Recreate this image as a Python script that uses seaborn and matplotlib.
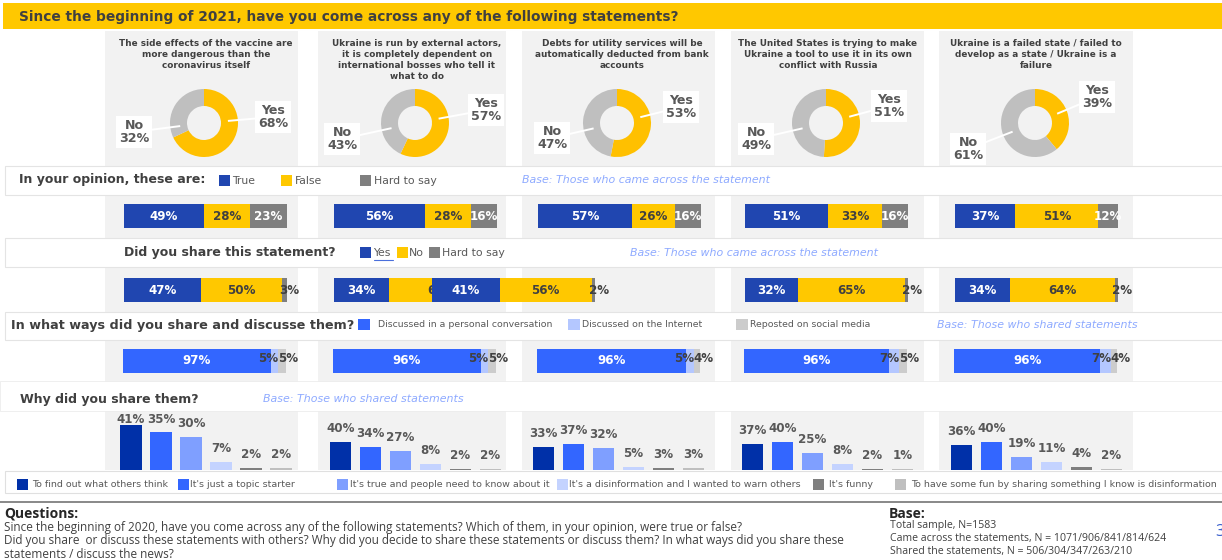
import numpy as np
import pandas as pd
import matplotlib
matplotlib.use("Agg")
import matplotlib.pyplot as plt
import seaborn as sns
from matplotlib.patches import Rectangle

# ---------------- data ----------------
statements = [
    "The side effects of the vaccine are\nmore dangerous than the\ncoronavirus itself",
    "Ukraine is run by external actors,\nit is completely dependent on\ninternational bosses who tell it\nwhat to do",
    "Debts for utility services will be\nautomatically deducted from bank\naccounts",
    "The United States is trying to make\nUkraine a tool to use it in its own\nconflict with Russia",
    "Ukraine is a failed state / failed to\ndevelop as a state / Ukraine is a\nfailure",
]
seen_yes = [68, 57, 53, 51, 39]
seen_no = [32, 43, 47, 49, 61]

opinion_labels = ["True", "False", "Hard to say"]
opinion_true = [49, 56, 57, 51, 37]
opinion_false = [28, 28, 26, 33, 51]
opinion_hard = [23, 16, 16, 16, 12]

share_labels = ["Yes", "No", "Hard to say"]
share_yes = [47, 34, 41, 32, 34]
share_no = [50, 64, 56, 65, 64]
share_hard = [3, 2, 2, 2, 2]

ways_labels = ["Discussed in a personal conversation", "Discussed on the Internet",
               "Reposted on social media"]
ways_personal = [97, 96, 96, 96, 96]
ways_internet = [5, 5, 5, 7, 7]
ways_social = [5, 5, 4, 5, 4]

why_labels = ["To find out what others think", "It's just a topic starter",
              "It's true and people need to know about it",
              "It's a disinformation and I wanted to warn others", "It's funny",
              "To have some fun by sharing something I know is disinformation"]
why_find_out = [41, 40, 33, 37, 36]
why_topic = [35, 34, 37, 40, 40]
why_true = [30, 27, 32, 25, 19]
why_warn = [7, 8, 5, 8, 11]
why_funny = [2, 2, 3, 2, 4]
why_fun = [2, 2, 3, 1, 2]

title = "Since the beginning of 2021, have you come across any of the following statements?"
questions_lines = [
    "Since the beginning of 2020, have you come across any of the following statements? Which of them, in your opinion, were true or false?",
    "Did you share  or discuss these statements with others? Why did you decide to share these statements or discuss them? In what ways did you share these",
    "statements / discuss the news?",
]
base_lines = [
    "Total sample, N=1583",
    "Came across the statements, N = 1071/906/841/814/624",
    "Shared the statements, N = 506/304/347/263/210",
]

# ---------------- style ----------------
YELLOW = "#ffc800"
DONUT_YES = "#ffc000"
DONUT_NO = "#bfbfbf"
op_colors = ["#2046b0", "#ffc800", "#7f7f7f"]
ways_colors = ["#3366ff", "#b4c7ff", "#cccccc"]
why_colors = ["#0030a8", "#3366ff", "#7f9fff", "#c4d3ff", "#7f7f7f", "#bfbfbf"]
DARK = "#404040"
MID = "#595959"
BASEBLUE = "#8eaaff"

sns.set_theme(style="white")
plt.rcParams["font.family"] = ["Open Sans", "DejaVu Sans"]
MONT = ["DejaVu Sans"]
BODY = ["Open Sans", "DejaVu Sans"]

W, H = 1222, 560
fig = plt.figure(figsize=(W / 100, H / 100), dpi=100)
fig.patch.set_facecolor("white")


def px_axes(x0, y0, x1, y1, z=1):
    return fig.add_axes([x0 / W, 1 - y1 / H, (x1 - x0) / W, (y1 - y0) / H], zorder=z)


bg = px_axes(0, 0, W, H, z=0)
bg.set_xlim(0, W)
bg.set_ylim(H, 0)
bg.axis("off")

ov = px_axes(0, 0, W, H, z=5)
ov.set_xlim(0, W)
ov.set_ylim(H, 0)
ov.axis("off")


def rect(ax, x0, y0, x1, y1, fc, ec="none", lw=0, z=0):
    ax.add_patch(Rectangle((x0, y0), x1 - x0, y1 - y0, facecolor=fc, edgecolor=ec,
                           lw=lw, zorder=z))


panel_x = [(105, 298), (318, 506), (522, 715), (731, 924), (939, 1133)]
bar_x0 = [124, 334, 538, 745, 955]
share_x0 = [124, 334, 432, 745, 955]
bar_w = 163
why_x0 = [116, 325.5, 528.5, 737.5, 946.5]
why_w = 180
why_scale = [1.09, 0.69, 0.69, 0.69, 0.69]
donut_cx = [204, 415, 617, 826, 1035]
donut_cy = 123
donut_r = 34
title_cx = [206, 417, 622, 828, 1036]
yes_lbl = [(273, 117), (486, 110), (681, 107), (889, 106), (1097, 97)]
no_lbl = [(134, 132), (342, 139), (552, 138), (756, 139), (968, 149)]

# backgrounds
rect(bg, 3, 3, W, 29, YELLOW, z=1)
for (x0, x1) in panel_x:
    rect(bg, x0, 31, x1, 470, "#f2f2f2", z=1)
for (y0, y1) in [(166, 195), (238, 267), (312, 340)]:
    rect(bg, 5, y0, W + 2, y1, "white", ec="#e4e4e4", lw=0.8, z=2)
rect(bg, 0, 381, W + 2, 411, "white", ec="#ececec", lw=0.6, z=2)
rect(bg, 5, 471, W + 2, 493, "white", ec="#e0e0e0", lw=0.8, z=2)
bg.plot([0, W], [502, 502], color="#7f7f7f", lw=1.3, zorder=3)

bg.text(19, 16.5, title, fontsize=9.9, weight="bold", color=DARK, va="center", ha="left",
        zorder=4, family=MONT)

# column titles
for i, s in enumerate(statements):
    bg.text(title_cx[i], 38.5, s, fontsize=6.4, weight="semibold", color=DARK, ha="center",
            va="top", linespacing=1.3, zorder=4, family=MONT)

# donuts
for i in range(5):
    ax = px_axes(donut_cx[i] - donut_r, donut_cy - donut_r, donut_cx[i] + donut_r,
                 donut_cy + donut_r, z=2)
    ax.pie([seen_yes[i], seen_no[i]], colors=[DONUT_YES, DONUT_NO], startangle=90,
           counterclock=False, wedgeprops=dict(width=0.5, edgecolor="none"), radius=1)
    ax.set_xlim(-1, 1)
    ax.set_ylim(-1, 1)
    ax.axis("off")
    for (lx, ly), txt in [(yes_lbl[i], f"Yes\n{seen_yes[i]}%"), (no_lbl[i], f"No\n{seen_no[i]}%")]:
        d = np.array([donut_cx[i] - lx, donut_cy - ly], dtype=float)
        d /= np.linalg.norm(d)
        p0 = np.array([lx, ly]) + d * 12
        p1 = np.array([donut_cx[i], donut_cy]) - d * 24
        ov.plot([p0[0], p1[0]], [p0[1], p1[1]], color="white", lw=1.4, zorder=1,
                solid_capstyle="butt")
        ov.text(lx, ly, txt, fontsize=9.1, weight="semibold", color=MID, ha="center",
                va="center", linespacing=1.05, zorder=2, family=MONT,
                bbox=dict(facecolor="white", edgecolor="none", pad=2.0))


def stacked_bar(ax, values, colors):
    cum = np.cumsum(values)
    df = pd.DataFrame({"end": cum, "row": ["r"] * len(values)})
    for k in reversed(range(len(values))):
        sns.barplot(data=df.iloc[[k]], x="end", y="row", orient="h", color=colors[k],
                    saturation=1, width=1.0, errorbar=None, ax=ax, linewidth=0)
    ax.set_xlim(0, cum[-1])
    ax.set_ylim(0.5, -0.5)
    ax.axis("off")
    return cum


LAB_FS = 8.6
lab_kw = dict(fontsize=LAB_FS, weight="bold", va="center", clip_on=False, family=MONT)

# row 1: opinion
for i in range(5):
    ax = px_axes(bar_x0[i], 204, bar_x0[i] + bar_w, 228, z=2)
    vals = [opinion_true[i], opinion_false[i], opinion_hard[i]]
    cum = stacked_bar(ax, vals, op_colors)
    for k, v in enumerate(vals):
        ax.text(cum[k] - v / 2, 0, f"{v}%", ha="center",
                color=["white", DARK, "white"][k], **lab_kw)

# row 2: shared
for i in range(5):
    ax = px_axes(share_x0[i], 278, share_x0[i] + bar_w, 302, z=2 + i * 0.01)
    vals = [share_yes[i], share_no[i], share_hard[i]]
    cum = stacked_bar(ax, vals, op_colors)
    ax.text(cum[0] - vals[0] / 2, 0, f"{vals[0]}%", ha="center", color="white", **lab_kw)
    ax.text(cum[1] - vals[1] / 2, 0, f"{vals[1]}%", ha="center", color=DARK, **lab_kw)
    ax.annotate(f"{vals[2]}%", (cum[1], 0), xytext=(-2, 0), textcoords="offset points",
                ha="left", color=DARK, fontsize=LAB_FS, weight="bold", va="center",
                annotation_clip=False, family=MONT)

# row 3: ways
for i in range(5):
    ax = px_axes(bar_x0[i] - 1, 349, bar_x0[i] - 1 + bar_w, 373, z=2)
    vals = [ways_personal[i], ways_internet[i], ways_social[i]]
    cum = stacked_bar(ax, vals, ways_colors)
    ax.text(cum[0] - vals[0] / 2, 0, f"{vals[0]}%", ha="center", color="white", **lab_kw)
    ax.annotate(f"{vals[1]}%", (cum[1], 0), xytext=(0, 2), textcoords="offset points",
                ha="right", color=DARK, fontsize=LAB_FS, weight="bold", va="center",
                annotation_clip=False, family=MONT)
    ax.annotate(f"{vals[2]}%", (cum[1], 0), xytext=(0, 2), textcoords="offset points",
                ha="left", color=DARK, fontsize=LAB_FS, weight="bold", va="center",
                annotation_clip=False, family=MONT)

# row 4: why
why_series = [why_find_out, why_topic, why_true, why_warn, why_funny, why_fun]
pal = dict(zip(why_labels, why_colors))
for i in range(5):
    ax = px_axes(why_x0[i], 405, why_x0[i] + why_w, 470, z=2)
    df = pd.DataFrame({"reason": why_labels, "pct": [s[i] for s in why_series]})
    sns.barplot(data=df, x="reason", y="pct", hue="reason", hue_order=why_labels,
                order=why_labels, palette=pal, saturation=1, width=0.72, errorbar=None,
                legend=False, ax=ax, linewidth=0)
    sc = why_scale[i]
    ax.set_ylim(0, 65 / sc)
    ax.set_xlim(-0.5, 5.5)
    ax.axis("off")
    for j, v in enumerate(df["pct"]):
        bottom_px = min(v * sc + 7, 44)
        ax.text(j, bottom_px / sc, f"{v}%", ha="center", va="bottom", fontsize=LAB_FS,
                weight="bold", color=MID, clip_on=False, family=MONT)

# band texts
head_kw = dict(fontsize=9.0, weight="bold", color=DARK, va="center", zorder=4, family=MONT)
leg_kw = dict(fontsize=7.8, color=MID, va="center", zorder=4, family=MONT)
base_kw = dict(fontsize=7.9, style="italic", color=BASEBLUE, va="center", zorder=4,
               family=MONT)

bg.text(19, 180, "In your opinion, these are:", **head_kw)
for (sx, tx), lab, c in zip([(219, 232), (281, 294.5), (360, 374.5)], opinion_labels, op_colors):
    rect(bg, sx, 175, sx + 11, 186, c, z=4)
    bg.text(tx, 180.5, lab, **leg_kw)
bg.text(522, 180, "Base: Those who came across the statement", **base_kw)

bg.text(124.5, 252.5, "Did you share this statement?", **head_kw)
for (sx, tx), lab, c in zip([(360, 373.5), (396.5, 409), (429, 442.5)], share_labels, op_colors):
    rect(bg, sx, 247, sx + 11, 258, c, z=4)
    bg.text(tx, 252.5, lab, **leg_kw)
bg.plot([373.5, 392.5], [260, 260], color="#4a6fdc", lw=0.8, zorder=4)
bg.text(629.5, 252.5, "Base: Those who came across the statement", **base_kw)

bg.text(11, 325, "In what ways did you share and discusse them?", fontsize=9.2,
        weight="bold", color=DARK, va="center", zorder=4, family=MONT)
for (sx, tx), lab, c in zip([(358, 378.5), (568, 582), (736, 750)], ways_labels, ways_colors):
    rect(bg, sx, 318.5, sx + 11.5, 330, c, z=4)
    bg.text(tx, 324.5, lab, fontsize=6.75, color=MID, va="center", zorder=4, family=MONT)
bg.text(937, 324.5, "Base: Those who shared statements", **base_kw)

bg.text(20, 399.5, "Why did you share them?", **head_kw)
bg.text(263, 399.5, "Base: Those who shared statements", **base_kw)

for (sx, tx), lab, c in zip([(17, 32), (178, 190), (337, 350), (557, 569), (813, 829),
                             (895, 911)], why_labels, why_colors):
    rect(bg, sx, 479, sx + 11, 490, c, z=4)
    bg.text(tx, 484.5, lab, fontsize=6.8, color=MID, va="center", zorder=4, family=MONT)

# bottom notes
bg.text(4, 513.5, "Questions:", fontsize=10, weight="bold", color="#262626", va="center",
        zorder=4, family=BODY)
for k, line in enumerate(questions_lines):
    bg.text(4, 527 + 13.5 * k, line, fontsize=8.5, color=DARK, va="center", zorder=4,
            family=BODY)
bg.text(889, 513.5, "Base:", fontsize=10, weight="bold", color="#262626", va="center",
        zorder=4, family=BODY)
for k, line in enumerate(base_lines):
    bg.text(890, 525.5 + 13 * k, line, fontsize=7.6, color=DARK, va="center", zorder=4,
            family=BODY)
bg.text(1215, 532, "3", fontsize=12, color="#3a5fcd", va="center", ha="left", zorder=4)

fig.savefig("out.png", dpi=100, facecolor="white")
